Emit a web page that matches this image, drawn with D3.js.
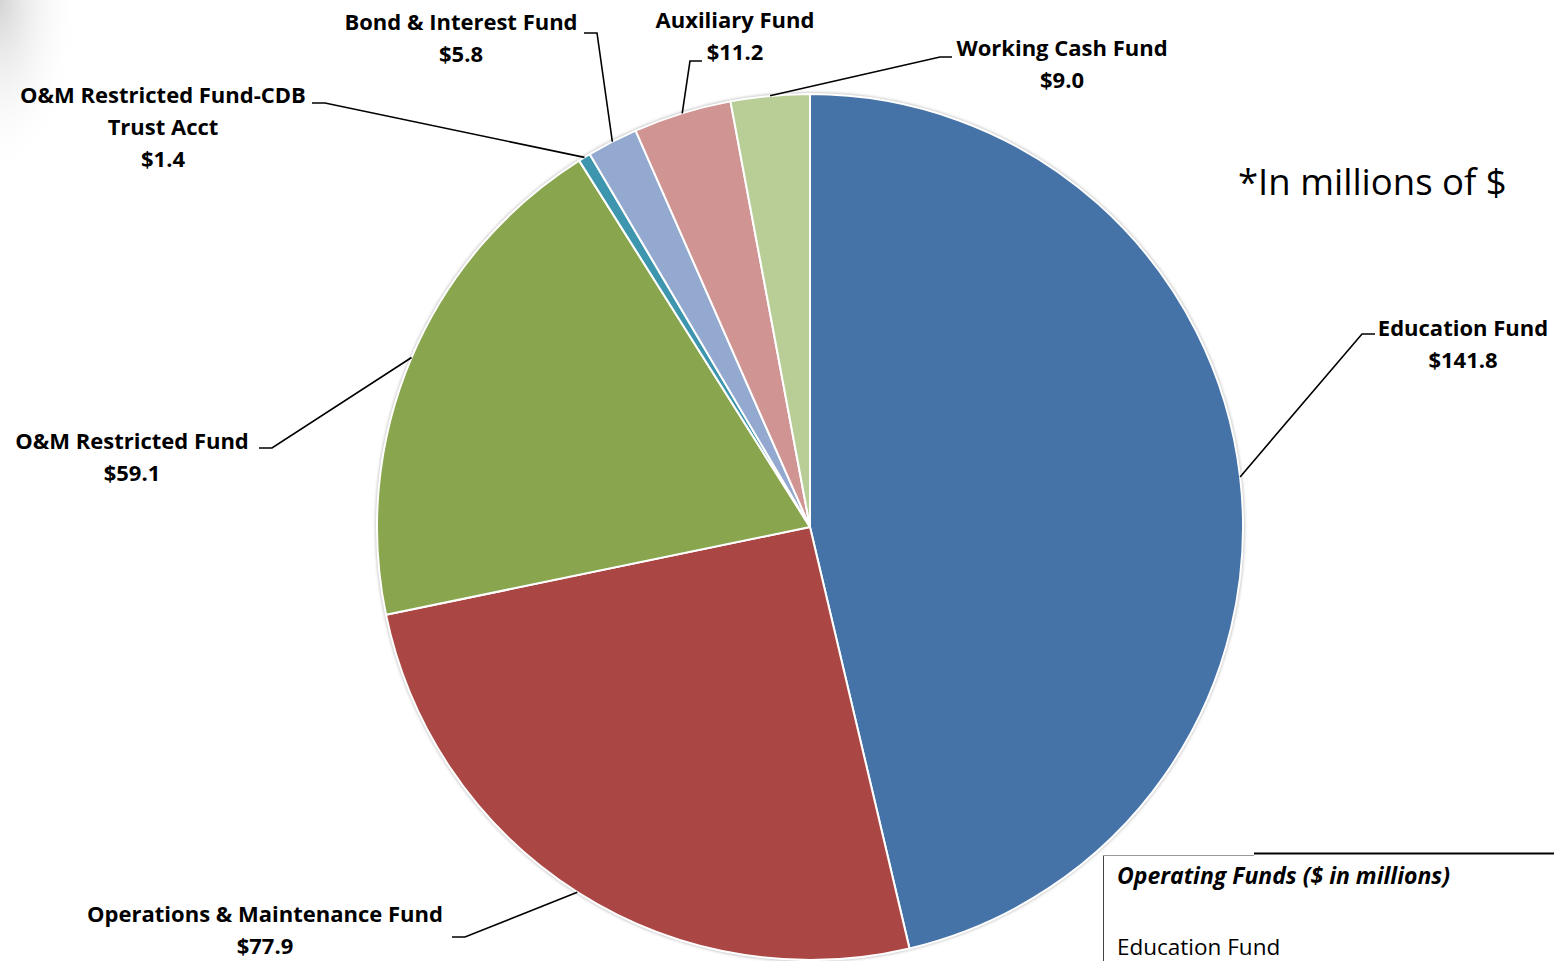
<!DOCTYPE html>
<html>
<head>
<meta charset="utf-8">
<script src="https://cdn.jsdelivr.net/npm/d3@7/dist/d3.min.js"></script>
<style>
  html, body { margin: 0; padding: 0; background: #fff; }
  svg { display: block; }
  text { font-family: "Open Sans", Lato, sans-serif; fill: #000; }
</style>
</head>
<body>
<svg id="chart" width="1554" height="961"></svg>
<script>
// Operating funds, in millions of dollars, clockwise from 12 o'clock
const funds = [
  "Education Fund",
  "Operations & Maintenance Fund",
  "O&M Restricted Fund",
  "O&M Restricted Fund-CDB Trust Acct",
  "Bond & Interest Fund",
  "Auxiliary Fund",
  "Working Cash Fund"
];
const amounts = [141.8, 77.9, 59.1, 1.4, 5.8, 11.2, 9.0];
const sliceColors = ["#4572A7", "#AA4643", "#89A54E", "#3D96AE", "#93A9CF", "#D09493", "#B9CD96"];

// Label lines for each slice (name lines, then value)
const labelLines = [
  ["Education Fund"],
  ["Operations & Maintenance Fund"],
  ["O&M Restricted Fund"],
  ["O&M Restricted Fund-CDB", "Trust Acct"],
  ["Bond & Interest Fund"],
  ["Auxiliary Fund"],
  ["Working Cash Fund"]
];

// Leader layout: elbow point, end of the short horizontal tick, label centre x, first baseline y
const leaderLayout = [
  { elbow: [1362, 334], tick: [1375, 334], lx: 1463, ly: 336 },
  { elbow: [465, 937], tick: [452, 937], lx: 265, ly: 922 },
  { elbow: [272, 448], tick: [259, 448], lx: 132, ly: 449 },
  { elbow: [325, 103], tick: [312, 103], lx: 163, ly: 103 },
  { elbow: [597, 33], tick: [584, 33], lx: 461, ly: 30 },
  { elbow: [690, 61], tick: [702, 61], lx: 735, ly: 28 },
  { elbow: [940, 57], tick: [952, 57], lx: 1062, ly: 56 }
];

const fmt = v => "$" + d3.format(".1f")(v);

const svg = d3.select("#chart");
const cx = 810, cy = 527, radius = 433;

// soft shadow in the upper-left corner
const defs = svg.append("defs");
const corner = defs.append("radialGradient")
  .attr("id", "cornerShade").attr("cx", "0").attr("cy", "0").attr("r", "1");
corner.append("stop").attr("offset", "0%").attr("stop-color", "#d4d4d4");
corner.append("stop").attr("offset", "100%").attr("stop-color", "#ffffff").attr("stop-opacity", 0);
svg.append("rect").attr("x", 0).attr("y", 0).attr("width", 80).attr("height", 180)
  .attr("fill", "url(#cornerShade)");

const rimShadow = defs.append("filter").attr("id", "rim")
  .attr("x", "-10%").attr("y", "-10%").attr("width", "120%").attr("height", "120%");
rimShadow.append("feGaussianBlur").attr("stdDeviation", 1.5);

const pie = d3.pie().sort(null).value(d => d);
const arcs = pie(amounts);
const arc = d3.arc().innerRadius(0).outerRadius(radius);

const g = svg.append("g").attr("transform", `translate(${cx},${cy})`);

// faint rim behind the pie
g.append("circle").attr("r", radius + 1.5).attr("fill", "#bfbfbf").attr("filter", "url(#rim)");

g.selectAll("path.slice")
  .data(arcs)
  .join("path")
  .attr("class", "slice")
  .attr("d", arc)
  .attr("fill", (d, i) => sliceColors[i])
  .attr("stroke", "#fff")
  .attr("stroke-width", 2)
  .attr("stroke-linejoin", "round");

// leader lines from each slice's outer mid-point
const edgePoint = d => {
  const a = (d.startAngle + d.endAngle) / 2;
  return [cx + radius * Math.sin(a), cy - radius * Math.cos(a)];
};

svg.append("g").selectAll("polyline")
  .data(arcs)
  .join("polyline")
  .attr("points", (d, i) => {
    const p = edgePoint(d);
    const L = leaderLayout[i];
    return [p, L.elbow, L.tick].map(q => q.join(",")).join(" ");
  })
  .attr("fill", "none")
  .attr("stroke", "#000")
  .attr("stroke-width", 1.6);

// slice labels
const labels = svg.append("g").selectAll("text.lbl")
  .data(arcs)
  .join("text")
  .attr("class", "lbl")
  .attr("text-anchor", "middle")
  .attr("font-weight", 700)
  .attr("font-size", 22)
  .attr("x", (d, i) => leaderLayout[i].lx)
  .attr("y", (d, i) => leaderLayout[i].ly);

labels.each(function(d, i) {
  const lines = labelLines[i].concat([fmt(amounts[i])]);
  d3.select(this).selectAll("tspan")
    .data(lines)
    .join("tspan")
    .attr("x", leaderLayout[i].lx)
    .attr("dy", (t, j) => j === 0 ? 0 : 32)
    .text(t => t);
});

// units note
svg.append("text")
  .attr("x", 1238).attr("y", 195)
  .attr("font-size", 36.5)
  .text("*In millions of $");

// start of the summary table below the chart
const tbl = svg.append("g");
tbl.append("line").attr("x1", 1103.5).attr("y1", 855).attr("x2", 1103.5).attr("y2", 961)
  .attr("stroke", "#444").attr("stroke-width", 1);
tbl.append("line").attr("x1", 1103).attr("y1", 855.5).attr("x2", 1254).attr("y2", 855.5)
  .attr("stroke", "#999").attr("stroke-width", 1);
tbl.append("line").attr("x1", 1254).attr("y1", 853.5).attr("x2", 1554).attr("y2", 853.5)
  .attr("stroke", "#000").attr("stroke-width", 2);
tbl.append("text")
  .attr("x", 1117).attr("y", 884)
  .attr("font-size", 23).attr("font-weight", 700).attr("font-style", "italic")
  .text("Operating Funds ($ in millions)");
tbl.append("text")
  .attr("x", 1117).attr("y", 955)
  .attr("font-size", 22.5)
  .text(funds[0]);
</script>
</body>
</html>
